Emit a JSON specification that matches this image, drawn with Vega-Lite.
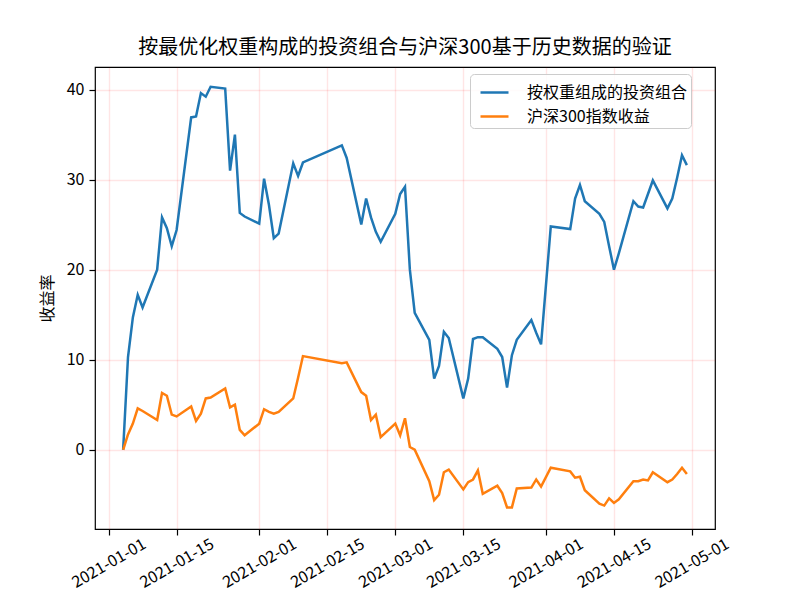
{
  "$schema": "https://vega.github.io/schema/vega-lite/v6.json",
  "width": 620,
  "height": 462,
  "autosize": "none",
  "padding": {"left": 95, "top": 67, "right": 73, "bottom": 66},
  "background": "white",
  "config": {
    "font": "Noto Sans CJK SC",
    "view": {"stroke": "#000000", "strokeWidth": 1.2},
    "axis": {"domain": false, "tickColor": "#000", "tickSize": 6, "tickWidth": 1.2, "labelColor": "#000", "labelFont": "Noto Sans CJK SC", "labelFontSize": 16, "titleFont": "Noto Sans CJK SC", "titleFontWeight": "normal", "titleColor": "#000", "gridColor": "#ff0000", "gridOpacity": 0.1, "gridWidth": 1.4}
  },
  "title": {"text": "按最优化权重构成的投资组合与沪深300基于历史数据的验证", "fontSize": 20, "fontWeight": "normal", "font": "Noto Sans CJK SC", "color": "#000", "anchor": "middle", "offset": 9},
  "data": {"values": [
    {"date": "2021-01-04", "portfolio": 0, "hs300": 0},
    {"date": "2021-01-05", "portfolio": 10.3, "hs300": 1.7},
    {"date": "2021-01-06", "portfolio": 14.7, "hs300": 2.9},
    {"date": "2021-01-07", "portfolio": 17.2, "hs300": 4.6},
    {"date": "2021-01-08", "portfolio": 15.8, "hs300": 4.3},
    {"date": "2021-01-11", "portfolio": 20.0, "hs300": 3.3},
    {"date": "2021-01-12", "portfolio": 25.8, "hs300": 6.3},
    {"date": "2021-01-13", "portfolio": 24.6, "hs300": 6.0},
    {"date": "2021-01-14", "portfolio": 22.6, "hs300": 3.9},
    {"date": "2021-01-15", "portfolio": 24.4, "hs300": 3.7},
    {"date": "2021-01-18", "portfolio": 36.9, "hs300": 4.8},
    {"date": "2021-01-19", "portfolio": 37.0, "hs300": 3.2},
    {"date": "2021-01-20", "portfolio": 39.6, "hs300": 4.0},
    {"date": "2021-01-21", "portfolio": 39.2, "hs300": 5.7},
    {"date": "2021-01-22", "portfolio": 40.3, "hs300": 5.8},
    {"date": "2021-01-25", "portfolio": 40.1, "hs300": 6.8},
    {"date": "2021-01-26", "portfolio": 31.0, "hs300": 4.7},
    {"date": "2021-01-27", "portfolio": 35.0, "hs300": 5.0},
    {"date": "2021-01-28", "portfolio": 26.3, "hs300": 2.2},
    {"date": "2021-01-29", "portfolio": 25.9, "hs300": 1.6},
    {"date": "2021-02-01", "portfolio": 25.1, "hs300": 2.9},
    {"date": "2021-02-02", "portfolio": 30.1, "hs300": 4.5},
    {"date": "2021-02-03", "portfolio": 27.2, "hs300": 4.2},
    {"date": "2021-02-04", "portfolio": 23.5, "hs300": 4.0},
    {"date": "2021-02-05", "portfolio": 24.0, "hs300": 4.2},
    {"date": "2021-02-08", "portfolio": 31.8, "hs300": 5.7},
    {"date": "2021-02-09", "portfolio": 30.4, "hs300": 8.0},
    {"date": "2021-02-10", "portfolio": 31.9, "hs300": 10.4},
    {"date": "2021-02-18", "portfolio": 33.8, "hs300": 9.6},
    {"date": "2021-02-19", "portfolio": 32.4, "hs300": 9.7},
    {"date": "2021-02-22", "portfolio": 25.0, "hs300": 6.4},
    {"date": "2021-02-23", "portfolio": 27.9, "hs300": 6.0},
    {"date": "2021-02-24", "portfolio": 25.8, "hs300": 3.3},
    {"date": "2021-02-25", "portfolio": 24.2, "hs300": 3.9},
    {"date": "2021-02-26", "portfolio": 23.1, "hs300": 1.4},
    {"date": "2021-03-01", "portfolio": 26.2, "hs300": 2.9},
    {"date": "2021-03-02", "portfolio": 28.4, "hs300": 1.6},
    {"date": "2021-03-03", "portfolio": 29.2, "hs300": 3.5},
    {"date": "2021-03-04", "portfolio": 20.0, "hs300": 0.3},
    {"date": "2021-03-05", "portfolio": 15.2, "hs300": 0.0},
    {"date": "2021-03-08", "portfolio": 12.2, "hs300": -3.5},
    {"date": "2021-03-09", "portfolio": 7.9, "hs300": -5.6},
    {"date": "2021-03-10", "portfolio": 9.3, "hs300": -5.0},
    {"date": "2021-03-11", "portfolio": 13.1, "hs300": -2.5},
    {"date": "2021-03-12", "portfolio": 12.4, "hs300": -2.2},
    {"date": "2021-03-15", "portfolio": 5.7, "hs300": -4.4},
    {"date": "2021-03-16", "portfolio": 7.9, "hs300": -3.6},
    {"date": "2021-03-17", "portfolio": 12.3, "hs300": -3.3},
    {"date": "2021-03-18", "portfolio": 12.5, "hs300": -2.3},
    {"date": "2021-03-19", "portfolio": 12.5, "hs300": -4.9},
    {"date": "2021-03-22", "portfolio": 11.2, "hs300": -4.0},
    {"date": "2021-03-23", "portfolio": 10.3, "hs300": -4.8},
    {"date": "2021-03-24", "portfolio": 6.9, "hs300": -6.4},
    {"date": "2021-03-25", "portfolio": 10.5, "hs300": -6.4},
    {"date": "2021-03-26", "portfolio": 12.2, "hs300": -4.3},
    {"date": "2021-03-29", "portfolio": 14.4, "hs300": -4.2},
    {"date": "2021-03-30", "portfolio": 13.0, "hs300": -3.3},
    {"date": "2021-03-31", "portfolio": 11.7, "hs300": -4.1},
    {"date": "2021-04-02", "portfolio": 24.8, "hs300": -2.0},
    {"date": "2021-04-06", "portfolio": 24.5, "hs300": -2.4},
    {"date": "2021-04-07", "portfolio": 27.9, "hs300": -3.1},
    {"date": "2021-04-08", "portfolio": 29.4, "hs300": -3.0},
    {"date": "2021-04-09", "portfolio": 27.6, "hs300": -4.5},
    {"date": "2021-04-12", "portfolio": 26.2, "hs300": -6.0},
    {"date": "2021-04-13", "portfolio": 25.3, "hs300": -6.2},
    {"date": "2021-04-14", "portfolio": 22.6, "hs300": -5.4},
    {"date": "2021-04-15", "portfolio": 20.0, "hs300": -5.9},
    {"date": "2021-04-16", "portfolio": 21.8, "hs300": -5.5},
    {"date": "2021-04-19", "portfolio": 27.6, "hs300": -3.5},
    {"date": "2021-04-20", "portfolio": 27.0, "hs300": -3.5},
    {"date": "2021-04-21", "portfolio": 26.9, "hs300": -3.3},
    {"date": "2021-04-22", "portfolio": 28.4, "hs300": -3.4},
    {"date": "2021-04-23", "portfolio": 29.9, "hs300": -2.5},
    {"date": "2021-04-26", "portfolio": 26.8, "hs300": -3.6},
    {"date": "2021-04-27", "portfolio": 27.9, "hs300": -3.3},
    {"date": "2021-04-28", "portfolio": 30.2, "hs300": -2.7},
    {"date": "2021-04-29", "portfolio": 32.7, "hs300": -2.0},
    {"date": "2021-04-30", "portfolio": 31.6, "hs300": -2.7}
  ]},
  "transform": [{"fold": ["portfolio", "hs300"], "as": ["series", "value"]}],
  "mark": {"type": "line", "strokeWidth": 2.5, "clip": true},
  "encoding": {
    "x": {
      "field": "date", "type": "temporal",
      "scale": {"type": "utc", "domain": [{"year": 2020, "month": 12, "date": 29, "hours": 5, "utc": true}, {"year": 2021, "month": 5, "date": 5, "hours": 19, "utc": true}]},
      "axis": {
        "title": null,
        "labelExpr": "utcFormat(datum.value, '%Y-%m-%d')",
        "values": [
          {"year": 2021, "month": 1, "date": 1, "utc": true},
          {"year": 2021, "month": 1, "date": 15, "utc": true},
          {"year": 2021, "month": 2, "date": 1, "utc": true},
          {"year": 2021, "month": 2, "date": 15, "utc": true},
          {"year": 2021, "month": 3, "date": 1, "utc": true},
          {"year": 2021, "month": 3, "date": 15, "utc": true},
          {"year": 2021, "month": 4, "date": 1, "utc": true},
          {"year": 2021, "month": 4, "date": 15, "utc": true},
          {"year": 2021, "month": 5, "date": 1, "utc": true}
        ],
        "labelAngle": -30, "labelAlign": "center", "labelBaseline": "middle", "labelPadding": 28, "labelOverlap": false, "labelFlush": false
      }
    },
    "y": {
      "field": "value", "type": "quantitative",
      "scale": {"domain": [-8.8, 42.5], "nice": false, "zero": false},
      "axis": {"title": "收益率", "titleFontSize": 16, "titleX": -48, "titleY": 231, "titleAngle": -90, "titleAlign": "center", "titleBaseline": "middle", "values": [0, 10, 20, 30, 40], "labelPadding": 5}
    },
    "color": {
      "field": "series", "type": "nominal",
      "scale": {"domain": ["portfolio", "hs300"], "range": ["#1f77b4", "#ff7f0e"]},
      "legend": {
        "title": null, "orient": "none", "legendX": 375, "legendY": 7,
        "labelExpr": "datum.label == 'portfolio' ? '按权重组成的投资组合' : '沪深300指数收益'",
        "labelFontSize": 16, "labelColor": "#000", "labelFont": "Noto Sans CJK SC", "labelLimit": 400,
        "symbolType": "stroke", "symbolSize": 784, "symbolStrokeWidth": 2.5, "symbolOffset": 6,
        "labelOffset": 17, "rowPadding": -3, "padding": 3,
        "strokeColor": "#cccccc", "fillColor": "rgba(255,255,255,0.85)", "cornerRadius": 4
      }
    }
  }
}
